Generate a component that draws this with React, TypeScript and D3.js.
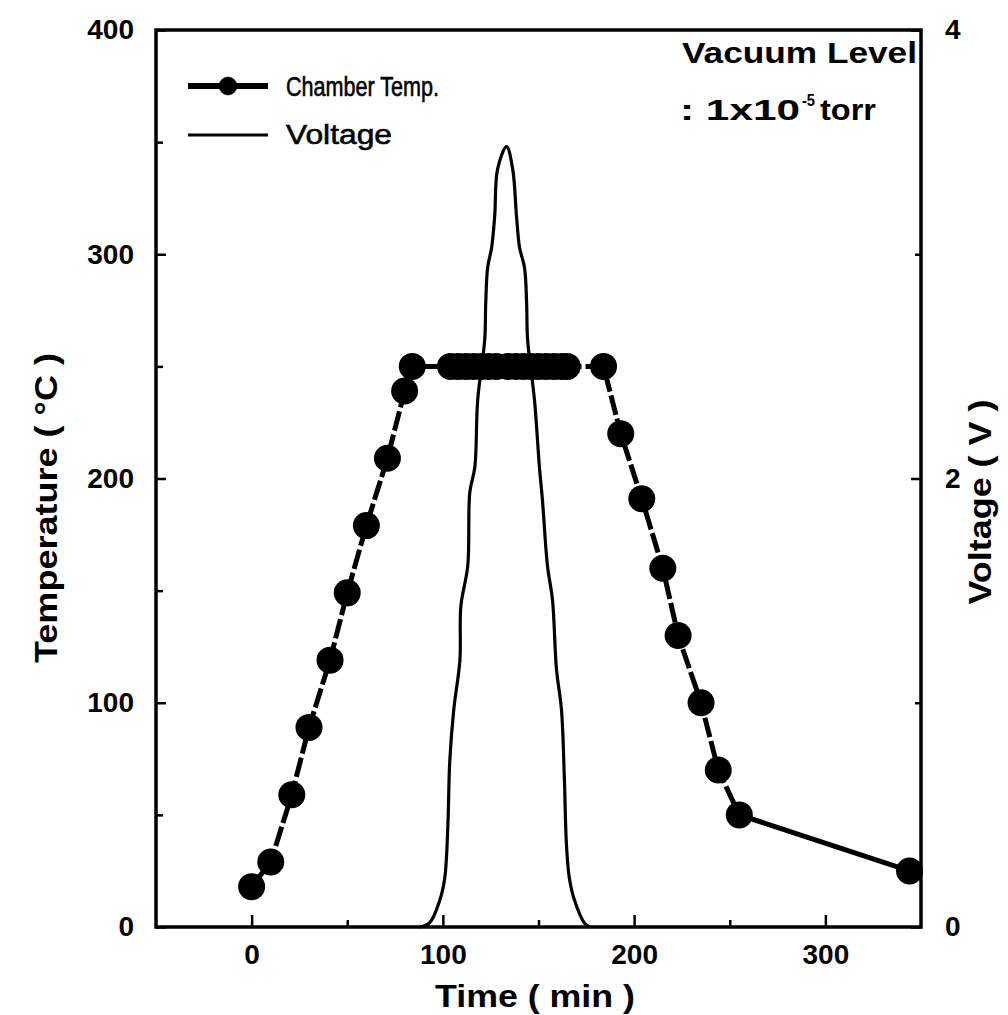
import React, { useEffect, useRef } from 'react';
import * as d3 from 'd3';

// chamber temperature (time in min, temperature in °C)
const tempTime = [0, 10, 21, 30, 41, 50, 60, 71, 80, 84,
  104, 108, 112, 116, 120, 124, 128, 134, 138, 142, 146, 150, 154, 158, 162, 165,
  184, 193, 204, 215, 223, 235, 244, 255, 344];
const tempValue = [18, 29, 59, 89, 119, 149, 179, 209, 239, 250,
  250, 250, 250, 250, 250, 250, 250, 250, 250, 250, 250, 250, 250, 250, 250, 250,
  250, 220, 191, 160, 130, 100, 70, 50, 25];

// voltage trace (time in min, V)
const voltTime = [88, 93, 98.4, 101, 102.6, 103.6, 105.7, 108.9, 109.4, 113, 114.1, 116.7, 118.2, 121.9,
  122.4, 123.4, 125.5, 127.1, 128.6, 133.3, 136.5, 138.5, 140.1, 142.7, 143.8, 144.3, 147.9, 150.5,
  152.1, 154.7, 157.3, 159.4, 162, 163.5, 164.6, 166.1, 168.8, 174, 177];
const voltValue = [0, 0.018, 0.12, 0.22, 0.45, 0.74, 0.97, 1.19, 1.43, 1.61, 1.94, 2.05, 2.35, 2.62,
  2.78, 2.94, 3.03, 3.17, 3.38, 3.48, 3.38, 3.17, 3.03, 2.94, 2.78, 2.62, 2.35, 2.05,
  1.9, 1.61, 1.46, 1.15, 0.97, 0.67, 0.37, 0.22, 0.12, 0.018, 0];

const xMajor = [0, 100, 200, 300];
const xMinor = [50, 150, 250];
const tempMajor = [0, 100, 200, 300, 400];
const tempMinor = [50, 150, 250, 350];
const voltMajor = [0, 2, 4];
const voltMinor = [1, 3];

function App() {
  const ref = useRef<SVGSVGElement | null>(null);

  useEffect(() => {
    const left = 156, right = 921, top = 30, bottom = 927;
    const font = "'Liberation Sans', Arial, sans-serif";

    const svg = d3.select(ref.current);
    svg.selectAll("*").remove();

    const x = d3.scaleLinear().domain([-50, 350]).range([left, right]);
    const y = d3.scaleLinear().domain([0, 400]).range([bottom, top]);
    const yv = d3.scaleLinear().domain([0, 4]).range([bottom, top]);

    const styleAxis = g => g
      .call(g => g.select(".domain").remove())
      .call(g => g.selectAll(".tick line").attr("stroke", "#000").attr("stroke-width", 2.5))
      .call(g => g.selectAll("text").attr("font-family", font).attr("font-weight", "bold")
        .attr("font-size", 28).attr("fill", "#000"));

    // x axis
    svg.append("g")
      .attr("transform", `translate(0,${bottom})`)
      .call(d3.axisBottom(x).tickValues(xMajor).tickSize(-12).tickPadding(17).tickFormat(d3.format("d")))
      .call(styleAxis);
    svg.append("g")
      .attr("transform", `translate(0,${bottom})`)
      .call(d3.axisBottom(x).tickValues(xMinor).tickSize(-7).tickFormat(() => ""))
      .call(styleAxis);

    // left axis
    svg.append("g")
      .attr("transform", `translate(${left},0)`)
      .call(d3.axisLeft(y).tickValues(tempMajor).tickSize(-10).tickPadding(22).tickFormat(d3.format("d")))
      .call(styleAxis);
    svg.append("g")
      .attr("transform", `translate(${left},0)`)
      .call(d3.axisLeft(y).tickValues(tempMinor).tickSize(-7).tickFormat(() => ""))
      .call(styleAxis);

    // right axis
    svg.append("g")
      .attr("transform", `translate(${right},0)`)
      .call(d3.axisRight(yv).tickValues(voltMajor).tickSize(-10).tickPadding(24).tickFormat(d3.format("d")))
      .call(styleAxis);
    svg.append("g")
      .attr("transform", `translate(${right},0)`)
      .call(d3.axisRight(yv).tickValues(voltMinor).tickSize(-6).tickFormat(() => ""))
      .call(styleAxis);

    // frame
    svg.append("rect")
      .attr("x", left).attr("y", top)
      .attr("width", right - left).attr("height", bottom - top)
      .attr("fill", "none").attr("stroke", "#000").attr("stroke-width", 3.5);

    // axis titles
    svg.append("text")
      .attr("x", 535).attr("y", 1007)
      .attr("text-anchor", "middle")
      .attr("font-family", font).attr("font-weight", "bold").attr("font-size", 31)
      .attr("textLength", 200).attr("lengthAdjust", "spacingAndGlyphs")
      .text("Time ( min )");
    svg.append("text")
      .attr("transform", "translate(57,508) rotate(-90)")
      .attr("text-anchor", "middle")
      .attr("font-family", font).attr("font-weight", "bold").attr("font-size", 32)
      .attr("textLength", 310).attr("lengthAdjust", "spacingAndGlyphs")
      .text("Temperature ( °C )");
    svg.append("text")
      .attr("transform", "translate(991,502) rotate(-90)")
      .attr("text-anchor", "middle")
      .attr("font-family", font).attr("font-weight", "bold").attr("font-size", 32)
      .attr("textLength", 205).attr("lengthAdjust", "spacingAndGlyphs")
      .text("Voltage ( V )");

    // voltage trace
    const vline = d3.line<number>()
      .x((d, i) => x(voltTime[i]))
      .y(d => yv(d))
      .curve(d3.curveCatmullRom.alpha(0.5));
    svg.append("path")
      .attr("d", vline(voltValue))
      .attr("fill", "none").attr("stroke", "#000").attr("stroke-width", 3.2);

    // chamber temperature
    const tline = d3.line<number>()
      .x((d, i) => x(tempTime[i]))
      .y(d => y(d));
    const n = tempValue.length;
    svg.append("path")
      .attr("d", tline(tempValue.slice(0, n - 1)))
      .attr("fill", "none").attr("stroke", "#000").attr("stroke-width", 5)
      .attr("stroke-dasharray", "20 4");
    svg.append("path")
      .attr("d", d3.line()([[x(tempTime[n - 2]), y(tempValue[n - 2])], [x(tempTime[n - 1]), y(tempValue[n - 1])]]))
      .attr("fill", "none").attr("stroke", "#000").attr("stroke-width", 5);

    svg.append("g")
      .selectAll("circle")
      .data(tempValue)
      .join("circle")
      .attr("cx", (d, i) => x(tempTime[i]))
      .attr("cy", d => y(d))
      .attr("r", 13.5)
      .attr("fill", "#000");

    // legend
    const lg = svg.append("g").attr("font-family", font).attr("stroke", "#000").attr("stroke-width", 0.6);
    lg.append("line").attr("x1", 188).attr("x2", 268).attr("y1", 86).attr("y2", 86)
      .attr("stroke", "#000").attr("stroke-width", 6);
    lg.append("circle").attr("cx", 228).attr("cy", 86).attr("r", 9).attr("fill", "#000");
    lg.append("text").attr("x", 286).attr("y", 96).attr("font-size", 28)
      .attr("textLength", 153).attr("lengthAdjust", "spacingAndGlyphs")
      .text("Chamber Temp.");
    lg.append("line").attr("x1", 188).attr("x2", 268).attr("y1", 135).attr("y2", 135)
      .attr("stroke", "#000").attr("stroke-width", 3);
    lg.append("text").attr("x", 286).attr("y", 144).attr("font-size", 28)
      .attr("textLength", 106).attr("lengthAdjust", "spacingAndGlyphs")
      .text("Voltage");

    // vacuum note
    const note = svg.append("g").attr("font-family", font).attr("font-weight", "bold");
    note.append("text")
      .attr("x", 682).attr("y", 63).attr("font-size", 30)
      .attr("textLength", 235).attr("lengthAdjust", "spacingAndGlyphs")
      .text("Vacuum Level");
    note.append("text")
      .attr("x", 680).attr("y", 120).attr("font-size", 29)
      .attr("textLength", 120).attr("lengthAdjust", "spacingAndGlyphs")
      .text(": 1x10");
    note.append("text")
      .attr("x", 802).attr("y", 106).attr("font-size", 17)
      .attr("textLength", 13).attr("lengthAdjust", "spacingAndGlyphs")
      .text("-5");
    note.append("text")
      .attr("x", 820).attr("y", 120).attr("font-size", 29)
      .attr("textLength", 56).attr("lengthAdjust", "spacingAndGlyphs")
      .text("torr");
  }, []);

  return (
    <svg ref={ref} width={1008} height={1015}
      style={{ position: "absolute", left: 0, top: 0, background: "#fff" }} />
  );
}

export default App;
